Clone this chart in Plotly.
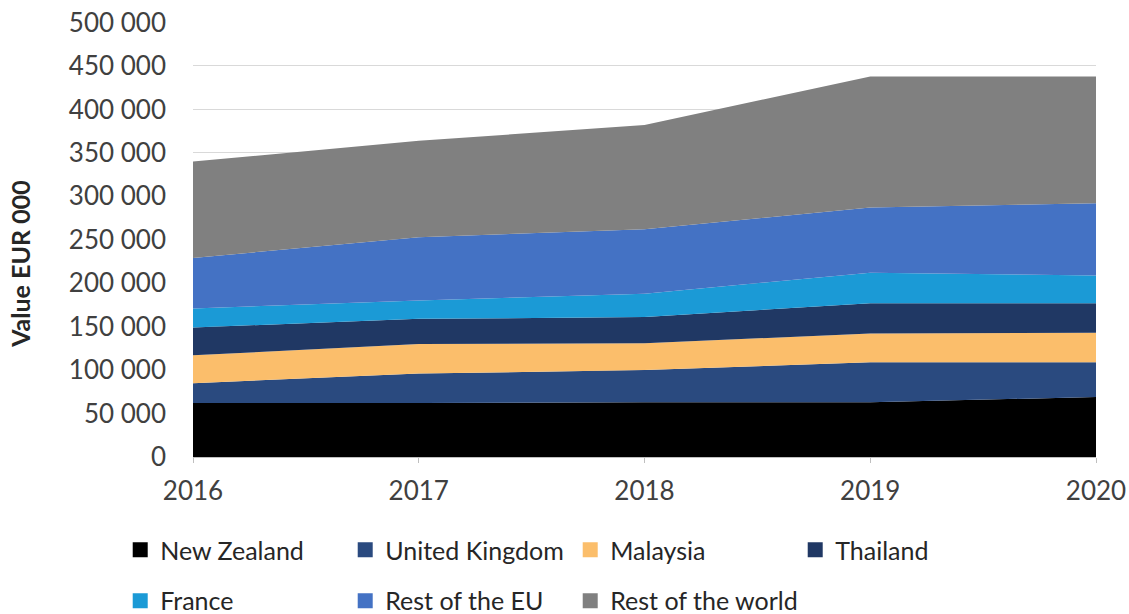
import plotly.graph_objects as go

years = [2016, 2017, 2018, 2019, 2020]
new_zealand = [62000, 62000, 63000, 63000, 69000]
united_kingdom = [23000, 34000, 37000, 46000, 40000]
malaysia = [32000, 34000, 31000, 33000, 34000]
thailand = [32000, 29000, 30000, 35000, 34000]
france = [22000, 21000, 27000, 35000, 32000]
rest_eu = [58000, 73000, 74000, 75000, 83000]
rest_world = [111000, 111000, 120000, 151000, 146000]

series = [
    ("New Zealand", new_zealand, "#000000", "legend"),
    ("United Kingdom", united_kingdom, "#2A4A7F", "legend"),
    ("Malaysia", malaysia, "#FBBE6B", "legend"),
    ("Thailand", thailand, "#203864", "legend"),
    ("France", france, "#1B9AD6", "legend2"),
    ("Rest of the EU", rest_eu, "#4472C4", "legend2"),
    ("Rest of the world", rest_world, "#808080", "legend2"),
]

tick_vals = [0, 50000, 100000, 150000, 200000, 250000, 300000, 350000, 400000, 450000, 500000]
tick_text = ["0", "50 000", "100 000", "150 000", "200 000", "250 000", "300 000",
             "350 000", "400 000", "450 000", "500 000"]
y_title = "Value EUR 000"

fig = go.Figure()
for name, vals, color, lg in series:
    fig.add_trace(go.Scatter(
        x=years, y=vals, name=name, stackgroup="one", mode="none",
        fillcolor=color, line=dict(width=0), showlegend=False,
        hovertemplate="%{x}: %{y:,.0f}<extra>" + name + "</extra>",
    ))
for name, vals, color, lg in series:
    fig.add_trace(go.Scatter(
        x=[None], y=[None], name=name, mode="markers",
        marker=dict(symbol="square", size=15, color=color),
        legend=lg, showlegend=True,
    ))
# invisible spacer entry so the last visible legend label is not clipped
fig.add_trace(go.Scatter(
    x=[None], y=[None], name=" ", mode="markers",
    marker=dict(symbol="square", size=1, color="rgba(0,0,0,0)"),
    legend="legend2", showlegend=True, hoverinfo="skip",
))

font_family = "Lato, 'Open Sans', sans-serif"
legend_common = dict(
    orientation="h", xanchor="left", yanchor="middle", traceorder="normal",
    entrywidth=180, font=dict(size=25, color="#262626"),
    bgcolor="rgba(0,0,0,0)", itemclick=False, itemdoubleclick=False,
)
fig.update_layout(
    width=1129, height=614,
    margin=dict(l=193, r=33, t=22, b=157, autoexpand=False),
    paper_bgcolor="white", plot_bgcolor="white",
    font=dict(family=font_family, size=25, color="#404040"),
    xaxis=dict(
        range=[2016, 2020], tickvals=years, ticktext=[str(y) for y in years],
        showgrid=False, showline=True, linecolor="#BFBFBF", linewidth=1,
        ticks="outside", ticklen=5, tickcolor="#BFBFBF",
        tickfont=dict(size=26, color="#404040"), zeroline=False,
        ticklabelstandoff=6, ticklabeloverflow="allow",
    ),
    yaxis=dict(
        range=[0, 500600], tickvals=tick_vals, ticktext=tick_text,
        showgrid=True, gridcolor="#D9D9D9", gridwidth=1, zeroline=False,
        tickfont=dict(size=26, color="#404040"), ticklabelstandoff=26,
        ticklabeloverflow="allow",
    ),
    legend=dict(x=-0.0806, y=-0.214, **legend_common),
    legend2=dict(x=-0.0806, y=-0.331, **legend_common),
    annotations=[dict(
        text="<b>" + y_title + "</b>", xref="paper", yref="paper",
        x=-0.1916, y=0.444, xanchor="center", yanchor="middle",
        textangle=-90, showarrow=False,
        font=dict(size=25, color="#262626"),
    )],
)

fig.write_html(
    "out.html",
    config={"displayModeBar": False},
    post_script="document.body.style.margin='0';document.body.style.overflow='hidden';",
)
